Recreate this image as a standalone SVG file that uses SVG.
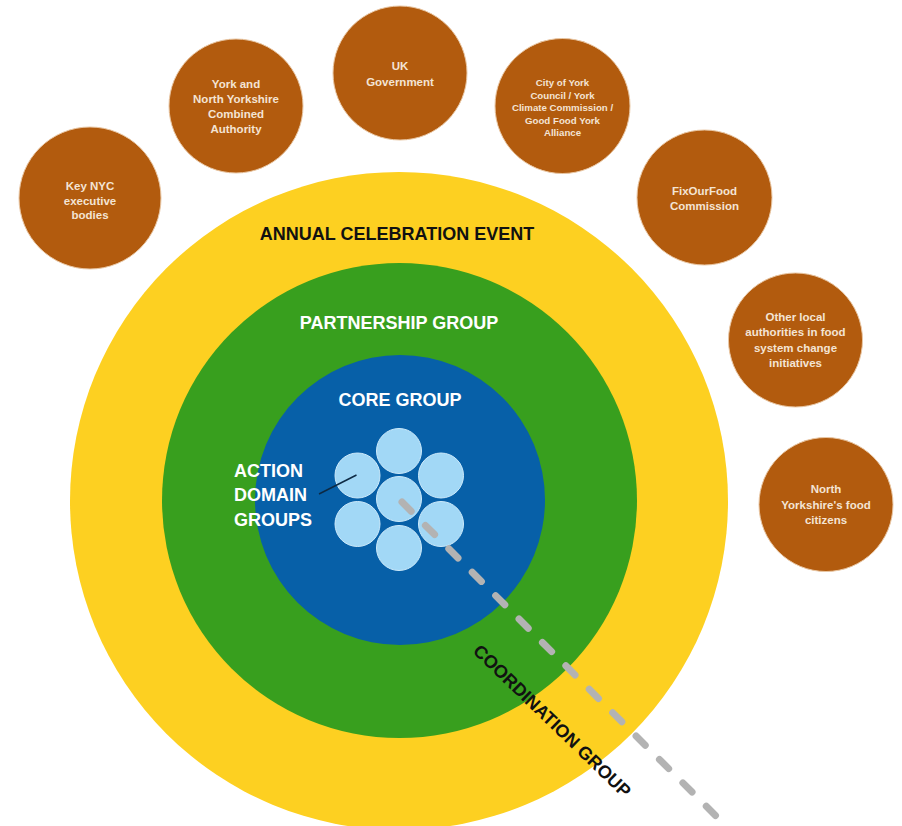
<svg xmlns="http://www.w3.org/2000/svg" width="902" height="826" viewBox="0 0 902 826">
<style>
.ext{fill:#b25b0e;stroke:#e9c7a4;stroke-width:1}
.et{font-family:"Liberation Sans",Arial,sans-serif;font-weight:bold;font-size:11.5px;fill:#f4e4d4;text-anchor:middle}
.es{font-size:9.7px}
.big{font-family:"Liberation Sans",Arial,sans-serif;font-weight:bold;font-size:18px;text-anchor:middle}
.w{fill:#ffffff}
.k{fill:#111111}
.adg{fill:#a2d8f6;stroke:#cdeafb;stroke-width:1}
</style>
<rect width="902" height="826" fill="#ffffff"/>
<g id="annual-celebration-event">
<circle cx="399" cy="501" r="329" fill="#fdd021"/>
<text class="big k" x="397" y="240">ANNUAL CELEBRATION EVENT</text>
</g>
<g id="partnership-group">
<circle cx="399.5" cy="500.5" r="237.5" fill="#389f1e"/>
<text class="big w" x="399" y="329">PARTNERSHIP GROUP</text>
</g>
<g id="core-group">
<circle cx="400" cy="500" r="145" fill="#0760a8"/>
<text class="big w" x="400" y="406">CORE GROUP</text>
</g>
<g id="action-domain-groups">
<circle class="adg" cx="399" cy="451" r="22.5"/>
<circle class="adg" cx="357.5" cy="475.5" r="22.5"/>
<circle class="adg" cx="441" cy="475.5" r="22.5"/>
<circle class="adg" cx="399" cy="499" r="22.5"/>
<circle class="adg" cx="357.5" cy="524" r="22.5"/>
<circle class="adg" cx="441" cy="524" r="22.5"/>
<circle class="adg" cx="399" cy="548" r="22.5"/>
<text class="big w" style="text-anchor:start" x="234"><tspan x="234" y="477">ACTION</tspan><tspan x="234" y="501">DOMAIN</tspan><tspan x="234" y="526">GROUPS</tspan></text>
</g>
<g id="connectors">
<line x1="356.5" y1="475" x2="319" y2="494" stroke="#0d2a44" stroke-width="1.5"/>
<line x1="402" y1="502" x2="716" y2="816" stroke="#b3b3b3" stroke-width="7" stroke-linecap="round" stroke-dasharray="13 20.1"/>
</g>
<g id="coordination-group">
<text class="big k" transform="translate(552,721) rotate(44)" x="0" y="6">COORDINATION GROUP</text>
</g>
<g id="key-nyc-executive-bodies">
<circle class="ext" cx="90" cy="198" r="71"/>
<text class="et"><tspan x="90" y="190">Key NYC</tspan><tspan x="90" y="204.5">executive</tspan><tspan x="90" y="219">bodies</tspan></text>
</g>
<g id="york-north-yorkshire-combined-authority">
<circle class="ext" cx="236" cy="106" r="67"/>
<text class="et"><tspan x="236" y="88">York and</tspan><tspan x="236" y="103">North Yorkshire</tspan><tspan x="236" y="118">Combined</tspan><tspan x="236" y="133">Authority</tspan></text>
</g>
<g id="uk-government">
<circle class="ext" cx="400" cy="73" r="67"/>
<text class="et"><tspan x="400" y="70">UK</tspan><tspan x="400" y="85.5">Government</tspan></text>
</g>
<g id="city-of-york">
<circle class="ext" cx="562.5" cy="106" r="67.5"/>
<text class="et es"><tspan x="562.5" y="86">City of York</tspan><tspan x="562.5" y="98.5">Council / York</tspan><tspan x="562.5" y="111">Climate Commission /</tspan><tspan x="562.5" y="123.5">Good Food York</tspan><tspan x="562.5" y="136">Alliance</tspan></text>
</g>
<g id="fixourfood-commission">
<circle class="ext" cx="704.5" cy="197.5" r="67.5"/>
<text class="et"><tspan x="704.5" y="195">FixOurFood</tspan><tspan x="704.5" y="210">Commission</tspan></text>
</g>
<g id="other-local-authorities">
<circle class="ext" cx="795.5" cy="340" r="67"/>
<text class="et"><tspan x="795.5" y="321">Other local</tspan><tspan x="795.5" y="336">authorities in food</tspan><tspan x="795.5" y="351.5">system change</tspan><tspan x="795.5" y="367">initiatives</tspan></text>
</g>
<g id="north-yorkshire-food-citizens">
<circle class="ext" cx="826" cy="504.5" r="67"/>
<text class="et"><tspan x="826" y="493">North</tspan><tspan x="826" y="508.5">Yorkshire's food</tspan><tspan x="826" y="524">citizens</tspan></text>
</g>
</svg>
